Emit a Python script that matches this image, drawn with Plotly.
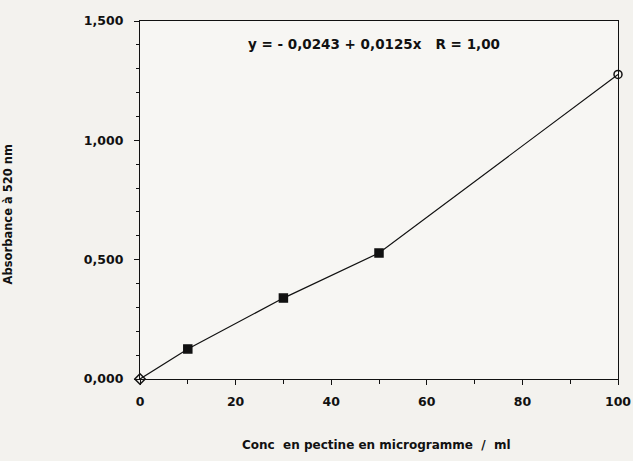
import plotly.graph_objects as go

conc = [0, 10, 30, 50, 100]
absorbance = [0.0, 0.126, 0.339, 0.528, 1.276]
marker_symbols = ["diamond-open", "square", "square", "square", "circle-open"]

x_tick_vals = [0, 20, 40, 60, 80, 100]
x_tick_text = ["0", "20", "40", "60", "80", "100"]
y_tick_vals = [0.0, 0.5, 1.0, 1.5]
y_tick_text = ["0,000", "0,500", "1,000", "1,500"]

equation = "<b>y = - 0,0243 + 0,0125x   R = 1,00</b>"
x_title = "<b>Conc  en pectine en microgramme  /  ml</b>"
y_title = "<b>Absorbance à 520 nm</b>"

font_family = "DejaVu Sans, Liberation Sans, sans-serif"
ink = "#111111"

fig = go.Figure()
fig.add_trace(go.Scatter(
    x=conc, y=absorbance, mode="lines+markers",
    line=dict(color=ink, width=1.2),
    marker=dict(symbol=marker_symbols, size=8, color=ink,
                line=dict(color=ink, width=1.5)),
    cliponaxis=False, showlegend=False,
))

fig.add_annotation(
    x=0.49, y=0.936, xref="paper", yref="paper", yanchor="middle",
    text=equation, showarrow=False,
    font=dict(family=font_family, size=13.5, color=ink),
)
fig.add_annotation(
    x=0.494, y=-0.184, xref="paper", yref="paper", yanchor="middle",
    text=x_title, showarrow=False,
    font=dict(family=font_family, size=12, color=ink),
)
fig.add_annotation(
    x=-0.276, y=0.46, xref="paper", yref="paper", xanchor="center",
    text=y_title, showarrow=False, textangle=-90,
    font=dict(family=font_family, size=11.5, color=ink),
)

fig.update_xaxes(
    range=[0, 100], tickvals=x_tick_vals, ticktext=x_tick_text,
    showline=True, linecolor=ink, linewidth=1.2, mirror=True,
    ticks="outside", ticklen=5, tickcolor=ink, tickwidth=1.2,
    minor=dict(dtick=10, tick0=0, ticks="outside", ticklen=4, tickcolor=ink),
    showgrid=False, zeroline=False, automargin=False, ticklabelstandoff=6,
    tickfont=dict(family=font_family, size=12.5, color=ink, weight="bold"),
)
fig.update_yaxes(
    range=[0, 1.5], tickvals=y_tick_vals, ticktext=y_tick_text,
    showline=True, linecolor=ink, linewidth=1.2, mirror=True,
    ticks="outside", ticklen=5, tickcolor=ink, tickwidth=1.2,
    minor=dict(dtick=0.1, tick0=0, ticks="outside", ticklen=3, tickcolor=ink),
    showgrid=False, zeroline=False, automargin=False, ticklabelstandoff=8,
    tickfont=dict(family=font_family, size=12.5, color=ink, weight="bold"),
)

fig.update_layout(
    width=633, height=461,
    margin=dict(l=140, r=15, t=21, b=82),
    paper_bgcolor="#f3f2ee", plot_bgcolor="#f7f6f3",
)

fig.write_html(
    "out.html",
    config={"displayModeBar": False},
    post_script="document.body.style.margin='0';document.body.style.overflow='hidden';",
)
